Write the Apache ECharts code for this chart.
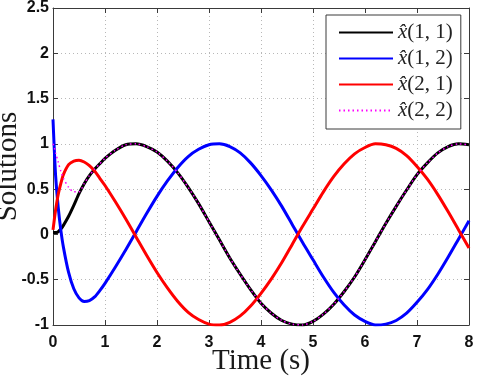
<!DOCTYPE html>
<html>
<head>
<meta charset="utf-8">
<script src="https://cdn.jsdelivr.net/npm/echarts@6/dist/echarts.min.js"></script>
<style>
  html, body { margin: 0; padding: 0; background: #fff; }
  #chart { width: 479px; height: 376px; }
</style>
</head>
<body>
<div id="chart"></div>
<script>
// time samples (s): dense at the start where the estimates converge
const TIME = [0, 0.02, 0.05, 0.1, 0.15, 0.2, 0.3, 0.4, 0.5, 0.6, 0.7, 0.8, 0.9, 1.0,
  1.2, 1.4, 1.6, 1.8, 2.0, 2.2, 2.4, 2.6, 2.8, 3.0,
  3.2, 3.4, 3.6, 3.8, 4.0, 4.2, 4.4, 4.6, 4.8, 5.0,
  5.2, 5.4, 5.6, 5.8, 6.0, 6.2, 6.4, 6.6, 6.8, 7.0,
  7.2, 7.4, 7.6, 7.8, 8.0];

const X11 = [0.02, 0.02, 0.02, 0.03, 0.06, 0.1, 0.2, 0.32, 0.45, 0.56, 0.65, 0.72, 0.78, 0.84,
  0.93, 0.99, 1.0, 0.97, 0.91, 0.81, 0.68, 0.52, 0.34, 0.14,
  -0.06, -0.26, -0.44, -0.61, -0.76, -0.87, -0.95, -0.99, -1.0, -0.96,
  -0.88, -0.77, -0.63, -0.47, -0.28, -0.08, 0.12, 0.31, 0.49, 0.66,
  0.79, 0.9, 0.97, 1.0, 0.99];

const X12 = [1.27, 1.0, 0.65, 0.3, 0.05, -0.14, -0.42, -0.6, -0.7, -0.74, -0.73, -0.69, -0.62, -0.54,
  -0.36, -0.17, 0.03, 0.23, 0.42, 0.59, 0.74, 0.86, 0.94, 0.99,
  1.0, 0.97, 0.9, 0.79, 0.65, 0.49, 0.31, 0.11, -0.09, -0.28,
  -0.47, -0.64, -0.78, -0.89, -0.96, -1.0, -0.99, -0.95, -0.87, -0.75,
  -0.61, -0.44, -0.25, -0.05, 0.15];

const X21 = [0.05, 0.14, 0.27, 0.44, 0.56, 0.66, 0.77, 0.81, 0.82, 0.8, 0.76, 0.7, 0.62, 0.54,
  0.36, 0.17, -0.03, -0.23, -0.42, -0.59, -0.74, -0.86, -0.94, -0.99,
  -1.0, -0.97, -0.9, -0.79, -0.65, -0.49, -0.31, -0.11, 0.09, 0.28,
  0.47, 0.64, 0.78, 0.89, 0.96, 1.0, 0.99, 0.95, 0.87, 0.75,
  0.61, 0.44, 0.25, 0.05, -0.15];

const X22 = [1.0, 0.97, 0.9, 0.8, 0.7, 0.62, 0.52, 0.47, 0.47, 0.56, 0.65, 0.72, 0.78, 0.84,
  0.93, 0.99, 1.0, 0.97, 0.91, 0.81, 0.68, 0.52, 0.34, 0.14,
  -0.06, -0.26, -0.44, -0.61, -0.76, -0.87, -0.95, -0.99, -1.0, -0.96,
  -0.88, -0.77, -0.63, -0.47, -0.28, -0.08, 0.12, 0.31, 0.49, 0.66,
  0.79, 0.9, 0.97, 1.0, 0.99];

const NAMES = ['x\u0302(1, 1)', 'x\u0302(1, 2)', 'x\u0302(2, 1)', 'x\u0302(2, 2)'];
const COLORS = ['#000000', '#0000ff', '#ff0000', '#ff00ff'];

const TICK_FONT = "'Liberation Sans', Arial, sans-serif";
const SERIF = "'Liberation Serif', 'DejaVu Serif', serif";
const FRAME = '#3a3a3a';

const zip = (vals) => TIME.map((t, i) => [t, vals[i]]);

const chart = echarts.init(document.getElementById('chart'), null, { renderer: 'canvas' });

const baseAxis = {
  type: 'value',
  nameMoveOverlap: false,
  axisLine: { show: true, onZero: false, lineStyle: { color: FRAME, width: 1 } },
  axisTick: { show: true, inside: true, length: 5, lineStyle: { color: FRAME } },
};

const tickLabel = { fontFamily: TICK_FONT, fontWeight: 'bold', fontSize: 16, color: '#111' };
const gridLine = { show: true, lineStyle: { color: '#b8b8b8', type: [1, 3], width: 1 } };

chart.setOption({
  animation: false,
  backgroundColor: '#ffffff',
  grid: {
    left: 53, right: 10, top: 8, bottom: 51,
    outerBoundsMode: 'none',
    show: false,
  },
  xAxis: [
    {
      ...baseAxis,
      min: 0, max: 8, interval: 1,
      position: 'bottom',
      name: 'Time (s)',
      nameLocation: 'middle',
      nameGap: 22,
      nameTextStyle: { fontFamily: SERIF, fontSize: 29, color: '#1a1a1a' },
      axisLabel: { margin: 10, ...tickLabel },
      splitLine: gridLine,
    },
    {
      ...baseAxis,
      min: 0, max: 8, interval: 1,
      position: 'top',
      axisLabel: { show: false },
      splitLine: { show: false },
    },
  ],
  yAxis: [
    {
      ...baseAxis,
      min: -1, max: 2.5, interval: 0.5,
      position: 'left',
      name: 'Solutions',
      nameLocation: 'middle',
      nameGap: 30,
      nameTextStyle: { fontFamily: SERIF, fontSize: 29, color: '#1a1a1a' },
      axisLabel: { margin: 4, ...tickLabel },
      splitLine: gridLine,
    },
    {
      ...baseAxis,
      min: -1, max: 2.5, interval: 0.5,
      position: 'right',
      axisLabel: { show: false },
      splitLine: { show: false },
    },
  ],
  legend: {
    orient: 'vertical',
    left: 326,
    top: 15,
    padding: [7, 8, 8, 12],
    backgroundColor: '#ffffff',
    borderColor: FRAME,
    borderWidth: 1,
    borderRadius: 0,
    itemWidth: 54,
    itemHeight: 2,
    itemGap: 5,
    itemStyle: { opacity: 0 },
    selectedMode: false,
    data: NAMES,
    formatter: (name) => `{i|x\u0302}{n|${name.slice(2)}}`,
    textStyle: {
      lineHeight: 20,
      rich: {
        i: { fontFamily: SERIF, fontStyle: 'italic', fontSize: 21, lineHeight: 20, color: '#222' },
        n: { fontFamily: SERIF, fontSize: 21, lineHeight: 20, color: '#222' },
      },
    },
  },
  series: [
    { data: zip(X11), width: 3 },
    { data: zip(X12), width: 3 },
    { data: zip(X21), width: 3 },
    { data: zip(X22), width: 1.5, type: [1.5, 3] },
  ].map((s, i) => ({
    name: NAMES[i],
    type: 'line',
    data: s.data,
    symbol: 'none',
    smooth: 0.25,
    color: COLORS[i],
    lineStyle: { color: COLORS[i], width: s.width, type: s.type || 'solid' },
    z: 2 + i,
  })),
});
</script>
</body>
</html>
